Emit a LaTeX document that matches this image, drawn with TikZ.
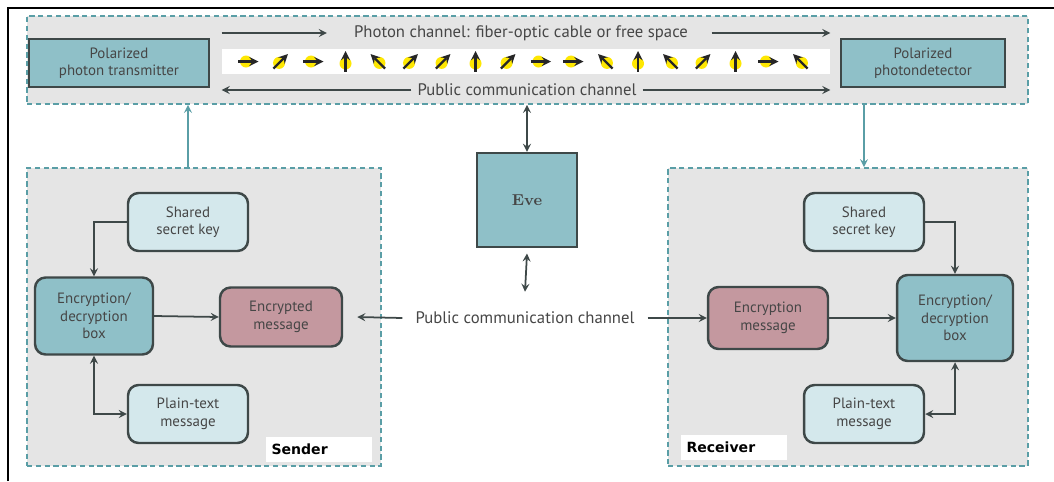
\documentclass[tikz,border=0pt]{standalone}
\usepackage{fontspec}
\setsansfont{PT Sans}
\newfontfamily\tagfont{DejaVu Sans}
\usetikzlibrary{positioning,calc}
\definecolor{boxteal}{RGB}{143,192,200}
\definecolor{keyblue}{RGB}{212,232,236}
\definecolor{msgrose}{RGB}{196,152,159}
\definecolor{panelgray}{RGB}{229,229,229}
\definecolor{dashteal}{RGB}{90,158,166}
\definecolor{edgegray}{RGB}{62,72,72}
\definecolor{txtgray}{RGB}{70,70,70}
\tikzset{
	panel/.style={draw=dashteal,dash pattern=on 3pt off 2pt,line width=1pt,fill=panelgray},
	device/.style={draw=edgegray,line width=1.4pt,fill=boxteal,align=center,text=txtgray,font=\sffamily\fontsize{8.5}{9.5}\selectfont},
	roundbox/.style={draw=edgegray,line width=1.4pt,rounded corners=6pt,align=center,text=txtgray,font=\sffamily\fontsize{8.5}{10}\selectfont,minimum width=2.4cm,minimum height=1.16cm},
	chantext/.style={text=txtgray,font=\sffamily\fontsize{9.5}{11}\selectfont},
	tagbox/.style={fill=white,minimum width=2.1cm,minimum height=0.5cm,text width=1.9cm,font=\tagfont\bfseries\fontsize{8}{9}\selectfont},
	link/.style={-stealth,line width=1pt,draw=edgegray},
}
\begin{document}
\begin{tikzpicture}[x=0.02cm,y=-0.02cm]
	\useasboundingbox (0,0) rectangle (1054,481);
	\coordinate (fa) at (8,481);
	\coordinate (fb) at (8,8);
	\coordinate (fc) at (1054,8);
	\draw[line width=1.2pt] (fa)--(fb)--(fc);
	
	% quantum channel
	\node[panel,minimum width=20.02cm,minimum height=1.76cm] (chan) at (527.5,60) {};
	\node[device,minimum width=3.6cm,minimum height=0.96cm] (tx) at (119,63) {Polarized\\photon transmitter};
	\node[device,minimum width=3.28cm,minimum height=0.96cm] (rx) at (923,63) {Polarized\\photondetector};
	\node[fill=white,minimum width=12.16cm,minimum height=0.5cm] (strip) at (526,61.5) {};
	\node[chantext] (phtxt) at (521,33) {Photon channel: fiber-optic cable or free space};
	\node[chantext] (pubtop) at (527,90) {Public communication channel};
	\draw[link] (strip.west|-phtxt)--([xshift=-12pt]phtxt.west);
	\draw[link] ([xshift=10pt]phtxt.east)--(strip.east|-phtxt);
	\draw[link] (pubtop.west)--(strip.west|-pubtop);
	\draw[link] (pubtop.east)--(strip.east|-pubtop);
	\foreach \ang [count=\i] in {0,45,0,90,135,45,45,90,45,0,0,135,90,135,45,90,0,135}{%
		\coordinate (ph\i) at (248+32.5*\i-32.5,61.5);
		\fill[yellow!90!orange] ($(ph\i)+(\ang+180:0.04cm)$) circle (0.12cm);
		\draw[-stealth,line width=1.3pt,black!85] ($(ph\i)+(\ang+180:0.2cm)$)--($(ph\i)+(\ang:0.21cm)$);
	}
	
	% sender
	\node[panel,minimum width=7.08cm,minimum height=5.96cm] (send) at (204,317) {};
	\node[roundbox,fill=keyblue] (skey) at (188,222) {Shared\\secret key};
	\node[roundbox,fill=boxteal,minimum width=2.36cm,minimum height=1.54cm] (sbox) at (94,316) {Encryption/\\decryption\\box};
	\node[roundbox,fill=msgrose,minimum width=2.44cm,minimum height=1.18cm] (smsg) at (281,317) {Encrypted\\message};
	\node[roundbox,fill=keyblue] (splain) at (188,414) {Plain-text\\message};
	\node[tagbox] (stag) at (319,449) {Sender};
	\draw[link] (skey.west)-|(sbox.north);
	\draw[link] (sbox.east)--(smsg.west);
	\draw[link,stealth-stealth] (sbox.south)|-(splain.west);
	
	% receiver
	\node[panel,minimum width=7.2cm,minimum height=5.96cm] (recv) at (848,317) {};
	\node[roundbox,fill=keyblue] (rkey) at (864,222) {Shared\\secret key};
	\node[roundbox,fill=boxteal,minimum width=2.32cm,minimum height=1.72cm] (rbox) at (955,318) {Encryption/\\decryption\\box};
	\node[roundbox,fill=msgrose,minimum height=1.24cm] (rmsg) at (768,318) {Encryption\\message};
	\node[roundbox,fill=keyblue] (rplain) at (864,414) {Plain-text\\message};
	\node[tagbox] (rtag) at (734,447) {Receiver};
	\draw[link] (rkey.east)-|(rbox.north);
	\draw[link] (rmsg.east)--(rbox.west);
	\draw[link,stealth-stealth] (rbox.south)|-(rplain.east);
	
	% eve and public channel
	\node[device,minimum width=2cm,minimum height=1.88cm,font=\rmfamily\bfseries\small] (eve) at (527,200) {Eve};
	\node[chantext] (pubmid) at (525,318) {Public communication channel};
	\draw[link,stealth-stealth] (chan.south-|eve.north)--(eve.north);
	\draw[link,stealth-stealth] ([yshift=-3pt]eve.south)--([yshift=8pt]pubmid.north);
	\draw[link] ([xshift=-4pt]pubmid.west)--([xshift=8pt]smsg.east);
	\draw[link] ([xshift=4pt]pubmid.east)--(rmsg.west);
	
	% links to the quantum channel
	\draw[link,draw=dashteal] (send.north-|skey.north)--(chan.south-|skey.north);
	\draw[link,draw=dashteal] (chan.south-|rkey.north)--(recv.north-|rkey.north);
\end{tikzpicture}
\end{document}
